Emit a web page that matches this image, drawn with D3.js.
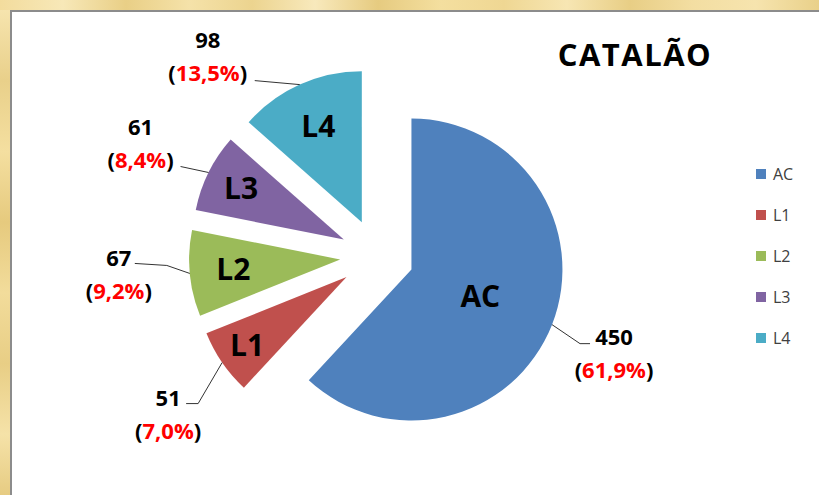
<!DOCTYPE html>
<html>
<head>
<meta charset="utf-8">
<script src="https://cdn.jsdelivr.net/npm/d3@7"></script>
<style>
  html, body { margin: 0; padding: 0; background: #fff; overflow: hidden; }
  svg { display: block; font-family: "Open Sans", "DejaVu Sans", sans-serif; }
</style>
</head>
<body>
<svg id="chart" width="819" height="495"></svg>
<script>
// data
const categories = ["AC", "L1", "L2", "L3", "L4"];
const values = [450, 51, 67, 61, 98];
const colors = ["#4F81BD", "#C0504D", "#9BBB59", "#8064A2", "#4BACC6"];
const title = "CATALÃO";

// inside label distance (fraction of radius) and leader/label layout,
// relative to the point where the leader leaves the slice
const innerPos = [0.49, 0.8, 0.71, 0.76, 0.7];
const leaders = [
  {pts: [[28, 19], [38, 19]], text: [62, 12]},
  {pts: [[-24, 41], [-36, 41]], text: [-54, 35]},
  {pts: [[-23, -8], [-55, -10]], text: [-71, -15]},
  {pts: [[-28, -6]], text: [-68, -45]},
  {pts: [[-45, -4]], text: [-92, -45]}
];

const svg = d3.select("#chart"),
    width = +svg.attr("width"),
    height = +svg.attr("height");

// parchment frame
const defs = svg.append("defs");
const gTop = defs.append("linearGradient").attr("id", "parchTop")
    .attr("x1", 0).attr("x2", 1).attr("y1", 0).attr("y2", 0);
const topStops = ["#f3dc9d", "#f7e8b8", "#e9cf86", "#f5e2a9", "#ecd48f", "#f8e9bc", "#e6cb80",
                  "#f4df9f", "#efd793", "#f7e6b3", "#e8ce85", "#f3dea2", "#f6e4ae", "#e9d089"];
topStops.forEach((c, i) => gTop.append("stop").attr("offset", i / (topStops.length - 1)).attr("stop-color", c));
const gLeft = defs.append("linearGradient").attr("id", "parchLeft")
    .attr("x1", 0).attr("x2", 0).attr("y1", 0).attr("y2", 1);
const leftStops = ["#f6e4ae", "#e9d08a", "#f4dfa0", "#e6ca7e", "#f2dc9b", "#e8ce85", "#f5e2a8", "#e4c87c"];
leftStops.forEach((c, i) => gLeft.append("stop").attr("offset", i / (leftStops.length - 1)).attr("stop-color", c));

svg.append("rect").attr("width", width).attr("height", height).attr("fill", "url(#parchTop)");
svg.append("rect").attr("y", 10).attr("width", 11).attr("height", height).attr("fill", "url(#parchLeft)");
svg.append("rect")
    .attr("x", 11).attr("y", 11)
    .attr("width", width + 40).attr("height", height + 40)
    .attr("fill", "#fff")
    .attr("stroke", "#8c8c8c")
    .attr("stroke-width", 2);

// pie
const cx = 377, cy = 256, r = 151, explode = 37;
const pie = d3.pie().sort(null).value(d => d)(values);
const arc = d3.arc().innerRadius(0).outerRadius(r);
const total = d3.sum(values);
const fmt = v => (v / total * 100).toFixed(1).replace(".", ",") + "%";

const mid = d => (d.startAngle + d.endAngle) / 2;
const dir = d => [Math.sin(mid(d)), -Math.cos(mid(d))];

const slices = svg.append("g")
    .attr("transform", `translate(${cx},${cy})`)
  .selectAll("g")
  .data(pie)
  .join("g")
    .attr("transform", d => `translate(${dir(d)[0] * explode},${dir(d)[1] * explode})`);

slices.append("path")
    .attr("d", arc)
    .attr("fill", (d, i) => colors[i]);

slices.append("text")
    .attr("x", (d, i) => dir(d)[0] * r * innerPos[i])
    .attr("y", (d, i) => dir(d)[1] * r * innerPos[i])
    .attr("dy", "0.36em")
    .attr("text-anchor", "middle")
    .style("font-size", "30px")
    .style("font-weight", "bold")
    .attr("fill", "#000")
    .text((d, i) => categories[i]);

// leader lines and outside labels
pie.forEach((d, i) => {
  const sx = cx + dir(d)[0] * (explode + r);
  const sy = cy + dir(d)[1] * (explode + r);
  const L = leaders[i];
  const pts = [[sx, sy]].concat(L.pts.map(p => [sx + p[0], sy + p[1]]));
  svg.append("path")
      .attr("d", d3.line()(pts))
      .attr("fill", "none")
      .attr("stroke", "#333")
      .attr("stroke-width", 1);

  const tx = sx + L.text[0], ty = sy + L.text[1];
  svg.append("text")
      .attr("x", tx).attr("y", ty).attr("dy", "0.36em")
      .attr("text-anchor", "middle")
      .style("font-size", "22px").style("font-weight", "bold")
      .attr("fill", "#000")
      .text(values[i]);
  const pct = svg.append("text")
      .attr("x", tx).attr("y", ty + 33).attr("dy", "0.36em")
      .attr("text-anchor", "middle")
      .style("font-size", "22px").style("font-weight", "bold")
      .attr("fill", "#000");
  pct.append("tspan").text("(");
  pct.append("tspan").attr("fill", "#ff0000").text(fmt(values[i]));
  pct.append("tspan").text(")");
});

// title
svg.append("text")
    .attr("x", 635).attr("y", 55).attr("dy", "0.36em")
    .attr("text-anchor", "middle")
    .style("font-size", "31px").style("font-weight", "bold")
    .style("letter-spacing", "1.5px")
    .attr("fill", "#000")
    .text(title);

// legend
const legend = svg.append("g")
  .selectAll("g")
  .data(categories)
  .join("g")
    .attr("transform", (d, i) => `translate(756,${174 + i * 41})`);
legend.append("rect")
    .attr("y", -5).attr("width", 10).attr("height", 10)
    .attr("fill", (d, i) => colors[i]);
legend.append("text")
    .attr("x", 17).attr("dy", "0.36em")
    .style("font-size", "16px")
    .attr("fill", "#404040")
    .text(d => d);
</script>
</body>
</html>
